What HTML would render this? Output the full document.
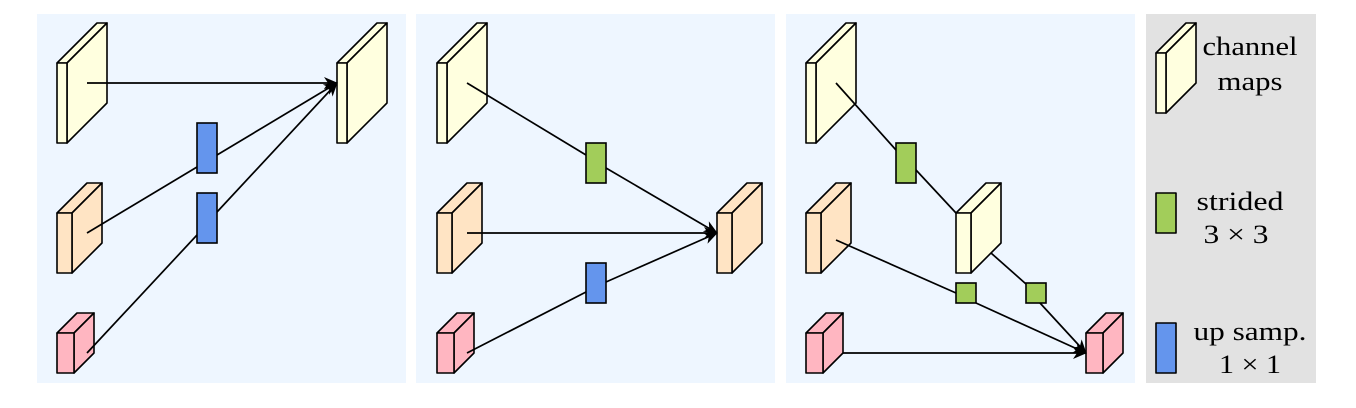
<!DOCTYPE html>
<html><head><meta charset="utf-8"><style>
html,body{margin:0;padding:0;background:#fff;}
svg{display:block;}
text{font-family:"Liberation Serif",serif;font-size:26px;fill:#000;}
</style></head><body>
<svg width="1356" height="408" viewBox="0 0 1356 408" xmlns="http://www.w3.org/2000/svg">
<defs>
<marker id="ar" viewBox="0 0 14 12" refX="13" refY="6" markerWidth="14" markerHeight="12" markerUnits="userSpaceOnUse" orient="auto">
<path d="M0,0 L14,6 L0,12 L4,6 Z" fill="#000"/>
</marker>
</defs>
<rect x="37" y="14" width="369" height="369" fill="#eef6ff"/>
<rect x="416" y="14" width="359" height="369" fill="#eef6ff"/>
<rect x="786" y="14" width="349" height="369" fill="#eef6ff"/>
<rect x="1146" y="14" width="170" height="369" fill="#e2e2e2"/>

<g stroke="#000" stroke-width="1.6" stroke-linejoin="round">
<polygon points="57,63 67,63 107,23 97,23" fill="#ffffdf"/>
<polygon points="67,63 107,23 107,103 67,143" fill="#ffffdf"/>
<rect x="57" y="63" width="10" height="80" fill="#ffffdf"/>
<polygon points="337,63 347,63 387,23 377,23" fill="#ffffdf"/>
<polygon points="347,63 387,23 387,103 347,143" fill="#ffffdf"/>
<rect x="337" y="63" width="10" height="80" fill="#ffffdf"/>
<polygon points="57,213 72,213 102,183 87,183" fill="#ffe4c4"/>
<polygon points="72,213 102,183 102,243 72,273" fill="#ffe4c4"/>
<rect x="57" y="213" width="15" height="60" fill="#ffe4c4"/>
<polygon points="57,333 74,333 94,313 77,313" fill="#ffb6c1"/>
<polygon points="74,333 94,313 94,353 74,373" fill="#ffb6c1"/>
<rect x="57" y="333" width="17" height="40" fill="#ffb6c1"/>

<polygon points="437,63 447,63 487,23 477,23" fill="#ffffdf"/>
<polygon points="447,63 487,23 487,103 447,143" fill="#ffffdf"/>
<rect x="437" y="63" width="10" height="80" fill="#ffffdf"/>
<polygon points="437,213 452,213 482,183 467,183" fill="#ffe4c4"/>
<polygon points="452,213 482,183 482,243 452,273" fill="#ffe4c4"/>
<rect x="437" y="213" width="15" height="60" fill="#ffe4c4"/>
<polygon points="437,333 454,333 474,313 457,313" fill="#ffb6c1"/>
<polygon points="454,333 474,313 474,353 454,373" fill="#ffb6c1"/>
<rect x="437" y="333" width="17" height="40" fill="#ffb6c1"/>
<polygon points="717,213 732,213 762,183 747,183" fill="#ffe4c4"/>
<polygon points="732,213 762,183 762,243 732,273" fill="#ffe4c4"/>
<rect x="717" y="213" width="15" height="60" fill="#ffe4c4"/>

<polygon points="806,63 816,63 856,23 846,23" fill="#ffffdf"/>
<polygon points="816,63 856,23 856,103 816,143" fill="#ffffdf"/>
<rect x="806" y="63" width="10" height="80" fill="#ffffdf"/>
<polygon points="806,213 821,213 851,183 836,183" fill="#ffe4c4"/>
<polygon points="821,213 851,183 851,243 821,273" fill="#ffe4c4"/>
<rect x="806" y="213" width="15" height="60" fill="#ffe4c4"/>
<polygon points="806,333 823,333 843,313 826,313" fill="#ffb6c1"/>
<polygon points="823,333 843,313 843,353 823,373" fill="#ffb6c1"/>
<rect x="806" y="333" width="17" height="40" fill="#ffb6c1"/>
<polygon points="956,213 971,213 1001,183 986,183" fill="#ffffdf"/>
<polygon points="971,213 1001,183 1001,243 971,273" fill="#ffffdf"/>
<rect x="956" y="213" width="15" height="60" fill="#ffffdf"/>
<polygon points="1086,333 1103,333 1123,313 1106,313" fill="#ffb6c1"/>
<polygon points="1103,333 1123,313 1123,353 1103,373" fill="#ffb6c1"/>
<rect x="1086" y="333" width="17" height="40" fill="#ffb6c1"/>

<polygon points="1156,53 1166,53 1196,23 1186,23" fill="#ffffdf"/>
<polygon points="1166,53 1196,23 1196,83 1166,113" fill="#ffffdf"/>
<rect x="1156" y="53" width="10" height="60" fill="#ffffdf"/>
<rect x="1156" y="193" width="20" height="40" fill="#a2cd5a"/>
<rect x="1156" y="323" width="20" height="50" fill="#6495ed"/>
</g>

<g stroke="#000" stroke-width="1.7" fill="none">
<line x1="87" y1="83" x2="337" y2="83" marker-end="url(#ar)"/>
<line x1="87" y1="233" x2="197" y2="167"/>
<line x1="217" y1="155" x2="337" y2="83" marker-end="url(#ar)"/>
<line x1="87" y1="353" x2="197" y2="235"/>
<line x1="217" y1="212" x2="337" y2="83" marker-end="url(#ar)"/>
<line x1="467" y1="83" x2="586" y2="155"/>
<line x1="606" y1="168" x2="717" y2="233" marker-end="url(#ar)"/>
<line x1="467" y1="233" x2="717" y2="233" marker-end="url(#ar)"/>
<line x1="467" y1="353" x2="586" y2="292"/>
<line x1="606" y1="282" x2="717" y2="233" marker-end="url(#ar)"/>
<line x1="836" y1="83" x2="896" y2="150"/>
<line x1="916" y1="170" x2="956" y2="213"/>
<line x1="836" y1="240" x2="956" y2="293"/>
<line x1="976" y1="303" x2="1086" y2="353" marker-end="url(#ar)"/>
<line x1="991" y1="253" x2="1026" y2="284"/>
<line x1="1040" y1="303" x2="1086" y2="353" marker-end="url(#ar)"/>
<line x1="843" y1="353" x2="1086" y2="353" marker-end="url(#ar)"/>
</g>

<g stroke="#000" stroke-width="1.6">
<rect x="197" y="123" width="20" height="50" fill="#6495ed"/>
<rect x="197" y="193" width="20" height="50" fill="#6495ed"/>
<rect x="586" y="143" width="20" height="40" fill="#a2cd5a"/>
<rect x="586" y="263" width="20" height="40" fill="#6495ed"/>
<rect x="896" y="143" width="20" height="40" fill="#a2cd5a"/>
<rect x="956" y="283" width="20" height="20" fill="#a2cd5a"/>
<rect x="1026" y="283" width="20" height="20" fill="#a2cd5a"/>
</g>

<text x="1250" y="55" text-anchor="middle" textLength="95" lengthAdjust="spacingAndGlyphs">channel</text>
<text x="1250" y="90" text-anchor="middle" textLength="65" lengthAdjust="spacingAndGlyphs">maps</text>
<text x="1240" y="210" text-anchor="middle" textLength="87" lengthAdjust="spacingAndGlyphs">strided</text>
<text x="1236" y="243" text-anchor="middle" textLength="65" lengthAdjust="spacingAndGlyphs">3 × 3</text>
<text x="1250" y="340" text-anchor="middle" textLength="113" lengthAdjust="spacingAndGlyphs">up samp.</text>
<text x="1250" y="373" text-anchor="middle" textLength="62" lengthAdjust="spacingAndGlyphs">1 × 1</text>
</svg>
</body></html>
